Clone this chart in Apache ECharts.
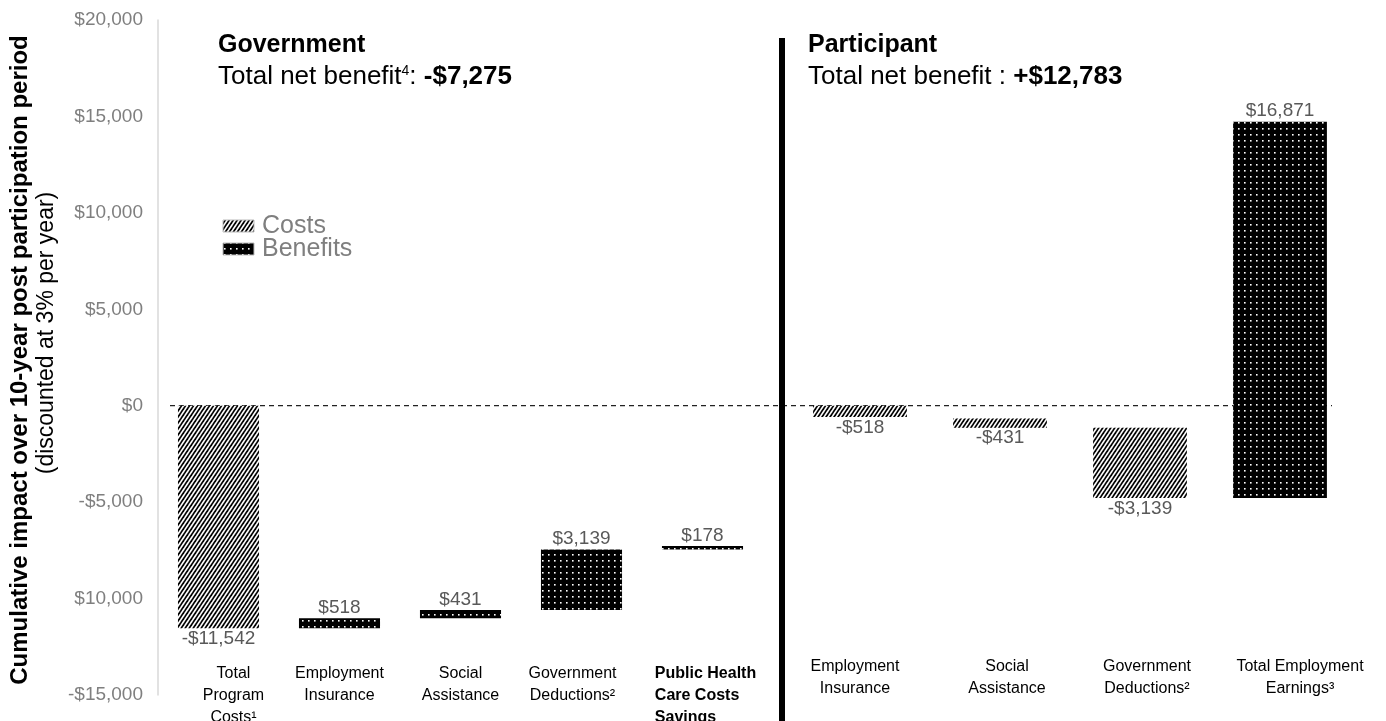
<!DOCTYPE html>
<html>
<head>
<meta charset="utf-8">
<script src="https://cdn.jsdelivr.net/npm/echarts/dist/echarts.min.js"></script>
<style>html,body{margin:0;padding:0;background:#fff}#c{width:1386px;height:721px}</style>
</head>
<body>
<div id="c"></div>
<script>
// ---- Data ----
const govCategories = ['Total\nProgram\nCosts\u00B9', 'Employment\nInsurance', 'Social\nAssistance', 'Government\nDeductions\u00B2', 'Public Health\nCare Costs\nSavings'];
const govLabels = ['-$11,542', '$518', '$431', '$3,139', '$178'];
const govKinds = ['cost', 'benefit', 'benefit', 'benefit', 'benefit'];
const govLow = [-11542, -11542, -11024, -10593, -7454];
const govHigh = [0, -11024, -10593, -7454, -7276];

const partCategories = ['Employment\nInsurance', 'Social\nAssistance', 'Government\nDeductions\u00B2', 'Total Employment\nEarnings\u00B3'];
const partLabels = ['-$518', '-$431', '-$3,139', '$16,871'];
const partKinds = ['cost', 'cost', 'cost', 'benefit'];
const partLow = [-580, -1140, -4780, -4780];
const partHigh = [0, -660, -1140, 14730];

const yTickValues = [-15000, -10000, -5000, 0, 5000, 10000, 15000, 20000];
const yTickLabels = ['-$15,000', '$10,000', '-$5,000', '$0', '$5,000', '$10,000', '$15,000', '$20,000'];

const govTitle = 'Government';
const govNet = '-$7,275';
const partTitle = 'Participant';
const partNet = '+$12,783';
const legendNames = ['Costs', 'Benefits'];

// ---- Patterns ----
const FONT = '"Liberation Sans", Arial, Helvetica, sans-serif';
function hatchCanvas() {
  const w = 4, h = 6;
  const c = document.createElement('canvas');
  c.width = w; c.height = h;
  const ctx = c.getContext('2d');
  ctx.fillStyle = '#fff'; ctx.fillRect(0, 0, w, h);
  ctx.strokeStyle = '#000'; ctx.lineWidth = 1.7;
  for (let k = -2; k <= 2; k++) {
    ctx.beginPath();
    ctx.moveTo(k * w - w, 2 * h);
    ctx.lineTo(k * w + 2 * w, -h);
    ctx.stroke();
  }
  return c;
}
function dotCanvas() {
  const s = 6;
  const c = document.createElement('canvas');
  c.width = s; c.height = s;
  const ctx = c.getContext('2d');
  ctx.fillStyle = '#000'; ctx.fillRect(0, 0, s, s);
  ctx.fillStyle = '#fff'; ctx.fillRect(2, 2, 1.6, 1.6);
  return c;
}
const hatchPattern = { image: hatchCanvas(), repeat: 'repeat' };
const dotPattern = { image: dotCanvas(), repeat: 'repeat' };

function makeRender(labels, kinds) {
  return function (params, api) {
    const i = api.value(0);
    const lo = api.value(1), hi = api.value(2);
    const pLo = api.coord([i, lo]);
    const pHi = api.coord([i, hi]);
    const band = api.size([1, 0])[0];
    const bw = band * 0.67;
    const x = pLo[0] - bw / 2;
    const y = pHi[1];
    const h = Math.max(pLo[1] - pHi[1], 1);
    const lab = labels[i];
    const above = lab.charAt(0) !== '-';
    return {
      type: 'group',
      children: [
        { type: 'rect', shape: { x: x, y: y, width: bw, height: h },
          style: { fill: kinds[i] === 'cost' ? hatchPattern : dotPattern } },
        { type: 'text', z2: 10,
          style: { text: lab, x: pLo[0], y: above ? y - 1 : y + h + 1,
                   align: 'center', verticalAlign: above ? 'bottom' : 'top',
                   fill: '#595959', font: '19px ' + FONT } }
      ]
    };
  };
}

function richLines(v, tag) {
  return v.split('\n').map(function (s) { return '{' + tag + '|' + s + '}'; }).join('\n');
}
const labBase = { color: '#000', fontSize: 16, lineHeight: 22, fontFamily: FONT };
const govRich = {
  r: Object.assign({}, labBase, { padding: [0, 0, 0, 30] }),
  l: Object.assign({}, labBase, { padding: [0, 18, 0, 0] }),
  b: Object.assign({}, labBase, { fontWeight: 'bold', align: 'left', padding: [0, 0, 0, 6] })
};
const partRich = {
  r: Object.assign({}, labBase, { padding: [0, 0, 0, 40] }),
  m: Object.assign({}, labBase, { padding: [0, 0, 0, 14] }),
  l: Object.assign({}, labBase, { padding: [0, 10, 0, 0] })
};

const chart = echarts.init(document.getElementById('c'), null, { renderer: 'canvas' });
const option = {
  backgroundColor: '#fff',
  animation: false,
  textStyle: { fontFamily: FONT },
  grid: [
    { left: 158, width: 605, top: 20, bottom: 26, containLabel: false, outerBoundsMode: 'none' },
    { left: 790, width: 560, top: 20, bottom: 26, containLabel: false, outerBoundsMode: 'none' }
  ],
  xAxis: [
    { type: 'category', gridIndex: 0, data: govCategories,
      axisLine: { show: false }, axisTick: { show: false }, splitLine: { show: false },
      axisLabel: { interval: 0, margin: -32, color: '#000', fontSize: 16, lineHeight: 22, fontFamily: FONT,
        rich: govRich,
        formatter: function (v, idx) {
          if (idx === 0) return richLines(v, 'r');
          if (idx === 3) return richLines(v, 'l');
          if (idx === 4) return richLines(v, 'b');
          return v;
        } } },
    { type: 'category', gridIndex: 1, data: partCategories,
      axisLine: { show: false }, axisTick: { show: false }, splitLine: { show: false },
      axisLabel: { interval: 0, margin: -39, color: '#000', fontSize: 16, lineHeight: 22, fontFamily: FONT,
        rich: partRich,
        formatter: function (v, idx) {
          if (idx === 0) return richLines(v, 'l');
          if (idx === 1 || idx === 2) return richLines(v, 'm');
          if (idx === 3) return richLines(v, 'r');
          return v;
        } } }
  ],
  yAxis: [
    { type: 'value', gridIndex: 0, min: -15000, max: 20000, interval: 5000,
      axisLine: { show: true, lineStyle: { color: '#d9d9d9', width: 1.5 } },
      axisTick: { show: false }, splitLine: { show: false },
      axisLabel: { color: '#7f7f7f', fontSize: 19, margin: 15, fontFamily: FONT,
        formatter: function (v) { const k = yTickValues.indexOf(v); return k >= 0 ? yTickLabels[k] : ''; } } },
    { type: 'value', gridIndex: 1, min: -15000, max: 20000, interval: 5000,
      axisLine: { show: false }, axisTick: { show: false }, splitLine: { show: false },
      axisLabel: { show: false } }
  ],
  series: [
    { type: 'custom', name: 'Government', xAxisIndex: 0, yAxisIndex: 0,
      renderItem: makeRender(govLabels, govKinds),
      encode: { x: 0, y: [1, 2] },
      data: govLow.map(function (lo, i) { return [i, lo, govHigh[i]]; }) },
    { type: 'custom', name: 'Participant', xAxisIndex: 1, yAxisIndex: 1,
      renderItem: makeRender(partLabels, partKinds),
      encode: { x: 0, y: [1, 2] },
      data: partLow.map(function (lo, i) { return [i, lo, partHigh[i]]; }) }
  ]
};
chart.setOption(option);

const zeroY = chart.convertToPixel({ yAxisIndex: 0 }, 0);
chart.setOption({
  graphic: [
    { type: 'line', z: -1, shape: { x1: 170, y1: zeroY, x2: 1332, y2: zeroY },
      style: { stroke: '#222', lineWidth: 1.3, lineDash: [5, 4] } },
    { type: 'rect', shape: { x: 779, y: 38, width: 6, height: 690 }, style: { fill: '#000' } },
    { type: 'text', x: 20, y: 360, rotation: Math.PI / 2,
      style: { text: 'Cumulative impact over 10-year post participation period', align: 'center', verticalAlign: 'middle',
               fill: '#000', font: 'bold 24px ' + FONT } },
    { type: 'text', x: 47, y: 333, rotation: Math.PI / 2,
      style: { text: '(discounted at 3% per year)', align: 'center', verticalAlign: 'middle',
               fill: '#000', font: '23px ' + FONT } },
    { type: 'text', x: 218, y: 45,
      style: { text: govTitle, align: 'left', verticalAlign: 'middle', fill: '#000', font: 'bold 25px ' + FONT } },
    { type: 'text', x: 218, y: 77,
      style: { text: '{n|Total net benefit}{s|4}{n|: }{b|' + govNet + '}', align: 'left', verticalAlign: 'middle',
               rich: { n: { fontSize: 26, fontFamily: FONT, fill: '#000' },
                       s: { fontSize: 14, fontFamily: FONT, fill: '#000', verticalAlign: 'top', padding: [0, 0, 12, 0] },
                       b: { fontSize: 26, fontFamily: FONT, fontWeight: 'bold', fill: '#000' } } } },
    { type: 'text', x: 808, y: 45,
      style: { text: partTitle, align: 'left', verticalAlign: 'middle', fill: '#000', font: 'bold 25px ' + FONT } },
    { type: 'text', x: 808, y: 77,
      style: { text: '{n|Total net benefit : }{b|' + partNet + '}', align: 'left', verticalAlign: 'middle',
               rich: { n: { fontSize: 26, fontFamily: FONT, fill: '#000' },
                       b: { fontSize: 26, fontFamily: FONT, fontWeight: 'bold', fill: '#000' } } } },
    { type: 'rect', shape: { x: 223, y: 220, width: 31, height: 12 }, style: { fill: hatchPattern, stroke: '#bbb', lineWidth: 1 } },
    { type: 'rect', shape: { x: 223, y: 243, width: 31, height: 12 }, style: { fill: dotPattern, stroke: '#bbb', lineWidth: 1 } },
    { type: 'text', x: 262, y: 226,
      style: { text: legendNames[0], align: 'left', verticalAlign: 'middle', fill: '#7f7f7f', font: '25px ' + FONT } },
    { type: 'text', x: 262, y: 249,
      style: { text: legendNames[1], align: 'left', verticalAlign: 'middle', fill: '#7f7f7f', font: '25px ' + FONT } }
  ]
});
</script>
</body>
</html>
